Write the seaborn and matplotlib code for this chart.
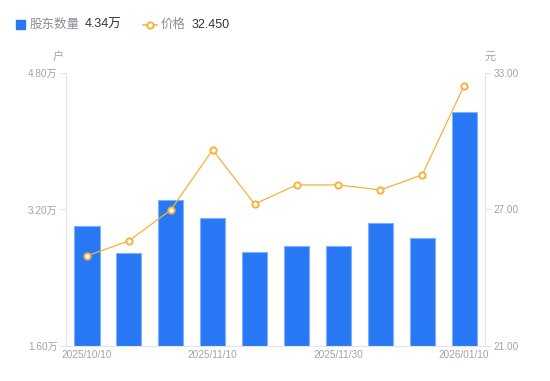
import numpy as np
import matplotlib
matplotlib.use("Agg")
import matplotlib.pyplot as plt
import seaborn as sns
from matplotlib.lines import Line2D
from matplotlib.patches import Rectangle

# data
dates = ["2025/10/10", "2025/10/20", "2025/10/31", "2025/11/10", "2025/11/14",
         "2025/11/20", "2025/11/30", "2025/12/10", "2025/12/31", "2026/01/10"]
holders = [3.01, 2.69, 3.31, 3.10, 2.70, 2.77, 2.77, 3.04, 2.87, 4.34]  # 万户
price = [24.96, 25.62, 26.98, 29.62, 27.24, 28.08, 28.08, 27.86, 28.52, 32.45]
shown_dates = ["2025/10/10", "2025/11/10", "2025/11/30", "2026/01/10"]

BLUE = "#2878F5"
ORANGE = "#F7B13A"
GRAY = "#A0A3AD"
AXIS = "#E3E5EA"

sns.set_style("white")
plt.rcParams["font.family"] = ["Liberation Sans", "Noto Sans CJK SC", "DejaVu Sans"]

fig = plt.figure(figsize=(5.5, 3.81), dpi=100)
ax = fig.add_axes([0.12, 0.0919, 0.762, 0.7165])

sns.barplot(x=dates, y=holders, ax=ax, color=BLUE, width=0.6,
            edgecolor="#7FB0FA", linewidth=0.8, saturation=1)
ax.set_ylim(1.6, 4.8)
ax.set_yticks([1.6, 3.2, 4.8])
ax.set_yticklabels([f"{v:.2f}万" for v in [1.6, 3.2, 4.8]])
ax.set_xlim(-0.5, len(dates) - 0.5)
ax.set_xticks([dates.index(d) for d in shown_dates])
ax.set_xticklabels(shown_dates)
ax.set_xlabel("")
ax.set_ylabel("")

ax2 = ax.twinx()
sns.lineplot(x=np.arange(len(dates)), y=price, ax=ax2, color=ORANGE, linewidth=0.9,
             marker="o", markersize=4.5, markerfacecolor="white",
             markeredgecolor=ORANGE, markeredgewidth=1.4)
ax2.set_ylim(21, 33)
ax2.set_yticks([21, 27, 33])
ax2.set_yticklabels([f"{v:.2f}" for v in [21, 27, 33]])
ax2.set_xlim(-0.5, len(dates) - 0.5)

for a in (ax, ax2):
    for s in a.spines.values():
        s.set_visible(False)
    a.tick_params(colors=GRAY, labelcolor=GRAY, labelsize=7.2, length=4, width=0.8)
    a.grid(False)
ax.spines["left"].set_visible(True)
ax.spines["left"].set_color(AXIS)
ax.spines["bottom"].set_visible(True)
ax.spines["bottom"].set_color(AXIS)
ax2.spines["right"].set_visible(True)
ax2.spines["right"].set_color(AXIS)
ax.tick_params(axis="y", color=AXIS, pad=2)
ax2.tick_params(axis="y", color=AXIS, pad=2)
ax.tick_params(axis="x", length=0, pad=3)

# axis units
fig.text(58 / 550, 1 - 57 / 381, "户", color=GRAY, fontsize=8, ha="center", va="center")
fig.text(490 / 550, 1 - 57 / 381, "元", color=GRAY, fontsize=8, ha="center", va="center")

# legend header
ly = 1 - 24.5 / 381
fig.patches.append(Rectangle((16 / 550, 1 - 29 / 381), 9 / 550, 9 / 381,
                             transform=fig.transFigure, color=BLUE, figure=fig))
fig.text(30 / 550, ly, "股东数量", color="#8A8D96", fontsize=9, va="center")
fig.text(85 / 550, ly, "4.34万", color="#333333", fontsize=9, va="center")
fig.lines.append(Line2D([143 / 550, 157 / 550], [ly, ly], transform=fig.transFigure,
                        color=ORANGE, linewidth=1.2, figure=fig))
fig.lines.append(Line2D([150 / 550], [ly], transform=fig.transFigure,
                        color=ORANGE, marker="o", markersize=4.5, markerfacecolor="white",
                        markeredgewidth=1.4, linestyle="none", figure=fig))
fig.text(161 / 550, ly, "价格", color="#8A8D96", fontsize=9, va="center")
fig.text(192 / 550, ly, "32.450", color="#333333", fontsize=9, va="center")

fig.savefig("out.png", dpi=100)
